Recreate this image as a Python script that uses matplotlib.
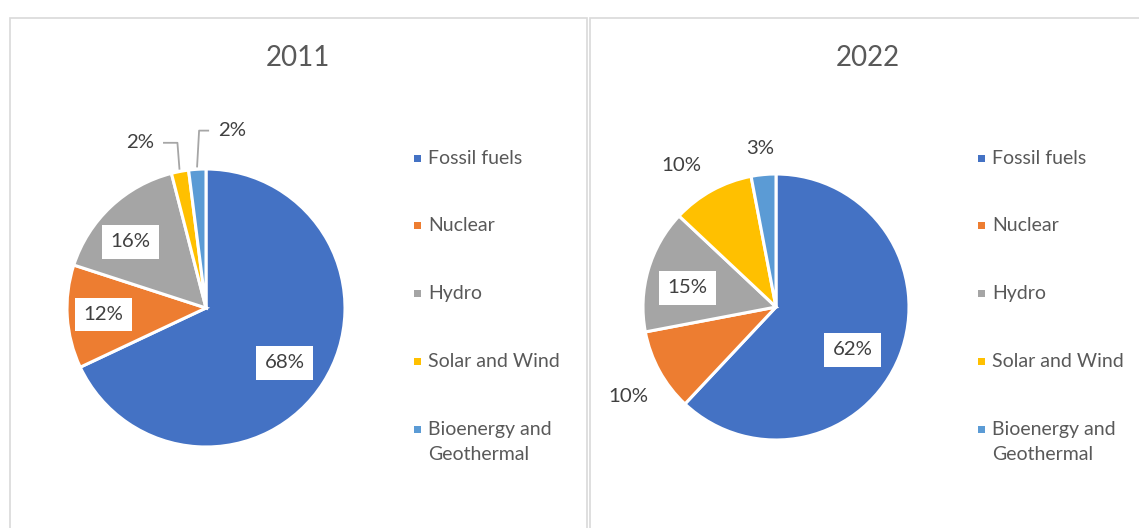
import numpy as np
import matplotlib.pyplot as plt
from matplotlib.patches import Rectangle

plt.rcParams['font.family'] = ['Lato', 'DejaVu Sans']

# ========================
# DATA
# ========================
CATEGORIES = ["Fossil fuels", "Nuclear", "Hydro", "Solar and Wind", "Bioenergy and\nGeothermal"]
YEARS = ["2011", "2022"]
SHARE_2011 = [68, 12, 16, 2, 2]
SHARE_2022 = [62, 10, 15, 10, 3]
COLORS = ["#4472C4", "#ED7D31", "#A5A5A5", "#FFC000", "#5B9BD5"]

# label placement per slice: (radius factor, angle nudge in deg, boxed, leader)
LABELS_2011 = [(0.69, -2.4, True, None), (0.74, 0, True, None), (0.72, 5.5, True, None),
               (1.28, 11, False, "left"), (1.29, -12, False, "right")]
LABELS_2022 = [(0.66, -7.6, True, None), (1.30, 2.5, False, None), (0.68, 4, True, None),
               (1.28, 5, False, None), (1.20, 0.3, False, None)]

W, H = 1139, 528
TEXT = "#404040"
GREY = "#595959"

fig = plt.figure(figsize=(W / 100, H / 100), dpi=100)
ax = fig.add_axes([0, 0, 1, 1])


def draw_legend(x, y_top, step=67.8, line_h=25):
    for i, (cat, col) in enumerate(zip(CATEGORIES, COLORS)):
        y = y_top - i * step
        ax.add_patch(Rectangle((x, y - 3.5), 7, 7, facecolor=col, edgecolor="none"))
        for j, line in enumerate(cat.split("\n")):
            ax.text(x + 14, y - j * line_h, line, ha="left", va="center",
                    fontsize=14, color=GREY)


def draw_panel(values, labels, center, r, title, title_x, legend_x):
    cx, cy = center
    ax.pie(values, colors=COLORS, startangle=90, counterclock=False,
           center=(cx, cy), radius=r, frame=True,
           wedgeprops=dict(edgecolor="white", linewidth=2.2))
    total = float(sum(values))
    start = 90.0
    for v, (f, nudge, boxed, leader) in zip(values, labels):
        span = v / total * 360
        mid = start - span / 2
        start -= span
        a = np.deg2rad(mid + nudge)
        tx, ty = cx + f * r * np.cos(a), cy + f * r * np.sin(a)
        bbox = dict(facecolor="white", edgecolor="none", pad=6) if boxed else None
        ax.text(tx, ty, f"{v}%", ha="center", va="center", fontsize=14.7,
                color=TEXT, bbox=bbox)
        if leader:
            m = np.deg2rad(mid)
            ex, ey = cx + 1.02 * r * np.cos(m), cy + 1.02 * r * np.sin(m)
            hx = tx + (24 if leader == "left" else -24)
            ax.plot([ex, ex - (2 if leader == "left" else -2), hx],
                    [ey, ty, ty], color="#A6A6A6", lw=1.3)
    ax.text(title_x, H - 58, title, ha="center", va="center", fontsize=20, color=GREY)
    draw_legend(legend_x, H - 158)


draw_panel(SHARE_2011, LABELS_2011, (206, H - 308), 139, YEARS[0], 298, 414)
draw_panel(SHARE_2022, LABELS_2022, (776, H - 307), 133, YEARS[1], 868, 978)

# panel borders
ax.add_patch(Rectangle((10, -5), 577, H - 18 + 5, fill=False, edgecolor="#D9D9D9", lw=1.2))
ax.add_patch(Rectangle((590, -5), 600, H - 18 + 5, fill=False, edgecolor="#D9D9D9", lw=1.2))

ax.set_xlim(0, W)
ax.set_ylim(0, H)
ax.set_aspect("auto")
ax.axis("off")

fig.savefig("out.png", dpi=100)
